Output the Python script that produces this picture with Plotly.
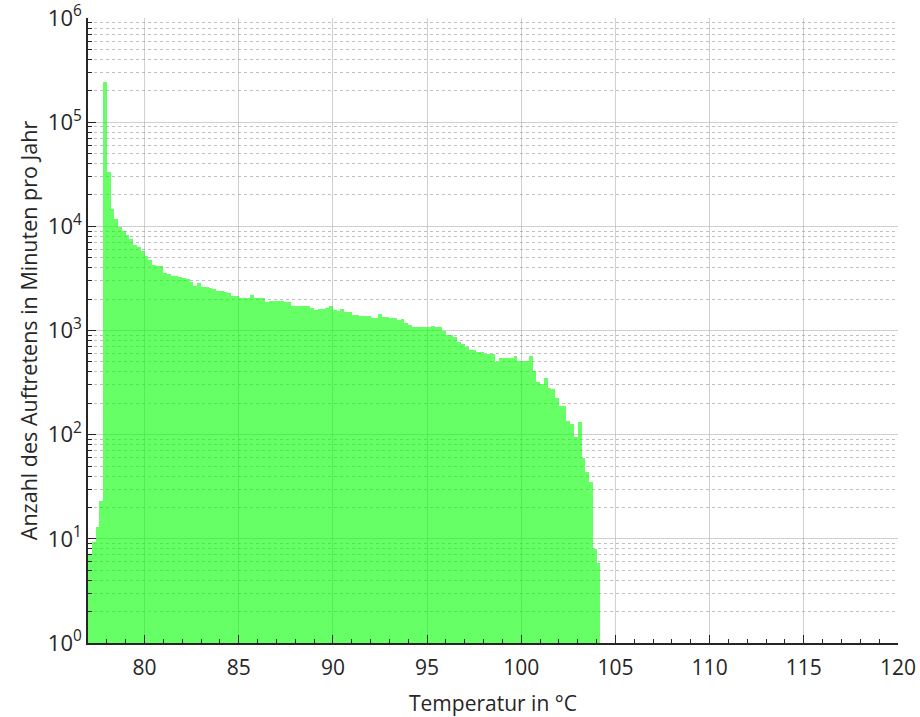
import numpy as np
import plotly.graph_objects as go

bin_start = 77.0
bin_width = 0.2
counts = [
    7, 9.3, 13, 23, 2.44e5,
    3.3e4, 1.46e4, 1.17e4, 9.9e3, 9.0e3, 8.2e3, 7.5e3, 6.6e3, 6.3e3, 5.8e3,
    5.2e3, 4.8e3, 4.3e3, 4.2e3, 4.15e3, 3.6e3, 3.46e3, 3.34e3, 3.34e3, 3.27e3,
    3.2e3, 3.1e3, 2.95e3, 2.7e3, 2.86e3, 2.6e3, 2.6e3, 2.55e3, 2.5e3, 2.4e3,
    2.4e3, 2.35e3, 2.29e3, 2.15e3, 2.15e3, 2.07e3, 2.07e3, 2.07e3, 2.2e3, 2.03e3,
    2.03e3, 2.03e3, 1.86e3, 1.93e3, 1.9e3, 1.9e3, 1.93e3, 1.86e3, 1.86e3, 1.73e3,
    1.73e3, 1.73e3, 1.73e3, 1.7e3, 1.63e3, 1.56e3, 1.6e3, 1.6e3, 1.65e3, 1.7e3,
    1.56e3, 1.53e3, 1.62e3, 1.5e3, 1.5e3, 1.41e3, 1.42e3, 1.37e3, 1.37e3, 1.37e3,
    1.32e3, 1.32e3, 1.43e3, 1.35e3, 1.35e3, 1.32e3, 1.32e3, 1.27e3, 1.3e3, 1.17e3,
    1.12e3, 1.09e3, 1.09e3, 1.09e3, 1.09e3, 1.08e3, 1.1e3, 1.08e3, 1.08e3, 985,
    910, 910, 870, 770, 740, 690, 650, 650, 620, 620,
    600, 594, 594, 500, 540, 540, 540, 540, 565, 510,
    510, 510, 570, 410, 318, 305, 347, 283, 274, 226,
    189, 187, 135, 126, 94, 132, 60, 43.5, 35, 8,
    5.9,
]
centers = bin_start + bin_width * (np.arange(len(counts)) + 0.5)

y_major = [1, 10, 100, 1e3, 1e4, 1e5, 1e6]
y_major_text = ["10<sup>%d</sup>" % i for i in range(7)]
y_minor = [m * 10 ** d for d in range(6) for m in range(2, 10)]

fig = go.Figure()
fig.add_trace(go.Bar(
    x=centers, y=counts, width=bin_width,
    marker=dict(color="rgba(0,255,0,0.6)", line=dict(width=0)),
    showlegend=False,
))

font_family = "Open Sans, Noto Sans, sans-serif"
fig.update_layout(
    width=920, height=717,
    margin=dict(l=88, r=22, t=18, b=74),
    paper_bgcolor="white", plot_bgcolor="white",
    bargap=0,
    font=dict(family=font_family, color="#262626", size=18),
    xaxis=dict(
        range=[77, 120], tick0=0, dtick=5, automargin=False,
        ticks="inside", ticklen=8, tickcolor="#262626",
        showline=True, linecolor="#262626", linewidth=1.5,
        showgrid=True, gridcolor="rgba(150,150,150,0.45)", gridwidth=1,
        tickfont=dict(size=21), ticklabelstandoff=5,
        title=dict(text="Temperatur in °C", font=dict(size=21), standoff=18),
        minor=dict(dtick=1, ticks="inside", ticklen=4, tickcolor="#262626", showgrid=False),
        zeroline=False,
    ),
    yaxis=dict(
        type="log", range=[0, 6], automargin=False,
        tickmode="array", tickvals=y_major, ticktext=y_major_text,
        ticks="inside", ticklen=8, tickcolor="#262626",
        showline=True, linecolor="#262626", linewidth=1.5,
        showgrid=True, gridcolor="rgba(150,150,150,0.45)", gridwidth=1,
        tickfont=dict(size=22),
        title=dict(text="Anzahl des Auftretens in Minuten pro Jahr", font=dict(size=21.5), standoff=4),
        minor=dict(tickmode="array", tickvals=y_minor, ticks="inside", ticklen=4,
                   tickcolor="#262626", showgrid=True, griddash="dot",
                   gridcolor="rgba(130,130,130,0.5)", gridwidth=1),
        zeroline=False,
    ),
)

fig.write_html("out.html")
